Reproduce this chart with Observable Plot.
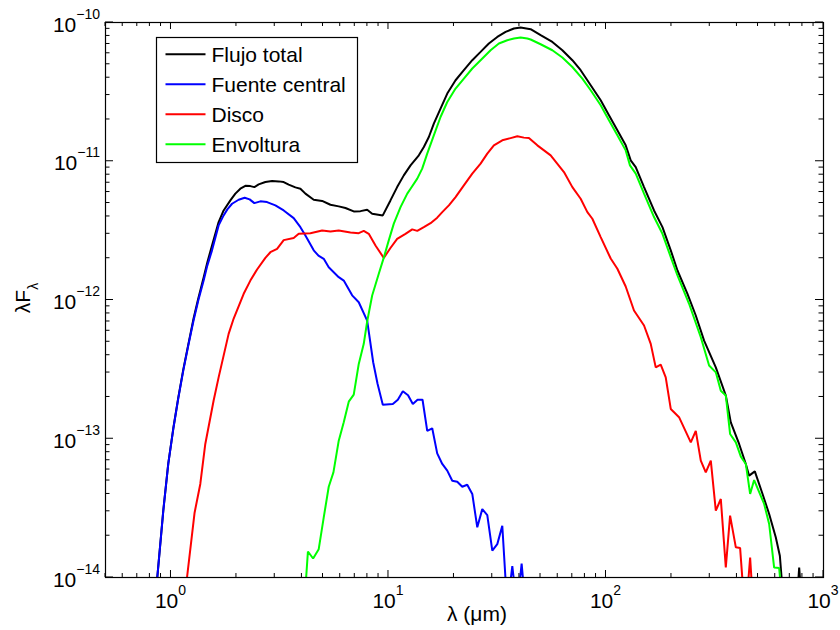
<!DOCTYPE html>
<html><head><meta charset="utf-8">
<script src="https://cdn.jsdelivr.net/npm/d3@7"></script>
<script src="https://cdn.jsdelivr.net/npm/@observablehq/plot@0.6"></script>
<style>body{margin:0;background:#fff;} svg{display:block}</style>
</head><body><div id="chart"></div>
<script>
const seriesNames = ["Flujo total", "Fuente central", "Disco", "Envoltura"];
const seriesColors = ["#000000", "#0000ff", "#ff0000", "#00ff00"];

const totalLambda = [0.820,0.865,0.922,0.972,1.025,1.080,1.139,1.201,1.270,1.335,1.413,1.469,1.544,1.656,1.746,1.875,1.977,2.084,2.198,2.317,2.417,2.530,2.716,2.917,3.128,3.298,3.477,3.733,3.936,4.150,4.532,4.953,5.409,5.906,6.341,6.923,7.432,7.980,8.414,9.415,10.21,10.96,11.76,12.63,13.79,14.54,15.33,16.16,17.35,18.63,20.34,22.21,24.28,26.51,28.94,31.64,34.55,37.73,40.50,45.03,50.06,56.67,63.01,70.05,76.48,85.04,94.54,103.2,112.8,123.2,129.9,137.0,149.6,166.3,181.8,198.5,213.1,236.9,258.7,282.5,319.8,355.5,374.8,409.3,439.4,455.0,483.4,524.5,562.5,603.7,630.0,664.4,700.4,738.5,773.0,812.5];
const totalFlux = [4.3e-15,1.0e-14,3.05e-14,6.65e-14,1.19e-13,1.97e-13,3.15e-13,4.77e-13,7.35e-13,1.025e-12,1.453e-12,1.865e-12,2.47e-12,3.64e-12,4.42e-12,5.22e-12,5.84e-12,6.34e-12,6.65e-12,6.62e-12,6.51e-12,6.81e-12,7.08e-12,7.20e-12,7.16e-12,7.08e-12,6.78e-12,6.48e-12,6.34e-12,5.84e-12,5.28e-12,5.18e-12,4.86e-12,4.73e-12,4.60e-12,4.35e-12,4.37e-12,4.47e-12,4.19e-12,4.07e-12,5.22e-12,6.51e-12,7.91e-12,9.34e-12,1.103e-11,1.266e-11,1.495e-11,1.867e-11,2.396e-11,3.074e-11,3.835e-11,4.53e-11,5.35e-11,6.14e-11,7.06e-11,7.87e-11,8.55e-11,9.05e-11,9.20e-11,8.95e-11,8.10e-11,7.24e-11,6.31e-11,5.35e-11,4.53e-11,3.53e-11,2.75e-11,2.144e-11,1.671e-11,1.302e-11,1.015e-11,9.08e-12,6.51e-12,4.42e-12,3.35e-12,2.28e-12,1.632e-12,1.108e-12,7.73e-13,5.10e-13,3.27e-13,2.05e-13,1.313e-13,9.17e-14,6.58e-14,5.42e-14,5.82e-14,4.00e-14,2.87e-14,1.943e-14,1.434e-14,5e-15,4e-15,4e-15,1.18e-14,4e-15];

const centralLambda = [0.820,0.865,0.922,0.972,1.025,1.080,1.139,1.201,1.270,1.335,1.413,1.469,1.544,1.656,1.746,1.816,1.909,2.047,2.182,2.300,2.417,2.576,2.765,3.020,3.298,3.666,3.936,4.150,4.532,4.764,5.039,5.312,5.906,6.228,6.807,7.300,7.980,8.505,8.901,9.415,10.47,11.04,11.64,12.30,12.94,13.60,14.34,15.07,15.89,16.75,17.67,18.63,19.64,20.71,21.84,23.02,24.28,25.60,26.99,28.46,30.01,31.64,33.36,35.17,37.09,39.02,40.94,43.15];
const centralFlux = [4.2e-15,1.0e-14,3.03e-14,6.61e-14,1.18e-13,1.95e-13,3.10e-13,4.70e-13,7.11e-13,9.91e-13,1.38e-12,1.77e-12,2.28e-12,3.45e-12,4.07e-12,4.50e-12,4.94e-12,5.28e-12,5.46e-12,5.31e-12,4.99e-12,5.14e-12,5.08e-12,4.81e-12,4.42e-12,3.89e-12,3.35e-12,2.92e-12,2.28e-12,2.09e-12,1.98e-12,1.72e-12,1.46e-12,1.38e-12,1.08e-12,9.64e-13,7.11e-13,3.56e-13,2.50e-13,1.76e-13,1.78e-13,1.91e-13,2.20e-13,2.06e-13,1.78e-13,1.91e-13,1.91e-13,1.14e-13,1.19e-13,7.85e-14,6.58e-14,5.89e-14,4.98e-14,4.90e-14,4.51e-14,4.66e-14,4.00e-14,2.30e-14,3.11e-14,2.82e-14,1.56e-14,1.74e-14,2.36e-14,6e-15,1.21e-14,6e-15,1.26e-14,5e-15];

const discLambda = [1.121,1.185,1.284,1.364,1.438,1.570,1.656,1.841,1.942,2.159,2.317,2.488,2.716,2.864,3.075,3.298,3.666,3.866,4.375,4.953,5.409,5.906,6.686,7.300,7.697,8.116,8.714,9.515,10.21,10.96,11.97,12.86,13.56,14.54,15.61,16.75,17.67,18.95,20.34,22.21,24.28,26.51,28.46,30.52,33.36,36.43,39.12,41.94,44.22,48.35,55.67,64.09,70.05,76.48,82.11,86.56,94.54,105.1,112.8,123.2,134.5,149.6,160.6,169.3,178.5,188.2,198.5,216.7,245.4,258.7,272.8,287.6,303.3,319.8,337.2,355.5,372.0,395.3,413.7,437.0,459.9,483.4];
const discFlux = [4.71e-15,1.0e-14,2.93e-14,4.72e-14,9.17e-14,1.88e-13,2.77e-13,5.70e-13,7.35e-13,1.108e-12,1.38e-12,1.66e-12,2.01e-12,2.21e-12,2.34e-12,2.70e-12,2.80e-12,3.00e-12,3.03e-12,3.17e-12,3.12e-12,3.17e-12,3.07e-12,3.03e-12,3.15e-12,3.00e-12,2.47e-12,2.01e-12,2.37e-12,2.76e-12,3.00e-12,3.23e-12,3.15e-12,3.35e-12,3.58e-12,3.92e-12,4.30e-12,4.81e-12,5.52e-12,6.70e-12,8.14e-12,9.61e-12,1.134e-11,1.302e-11,1.415e-11,1.468e-11,1.512e-11,1.480e-11,1.470e-11,1.302e-11,1.103e-11,8.36e-12,6.51e-12,5.37e-12,4.30e-12,3.85e-12,2.84e-12,1.99e-12,1.68e-12,1.251e-12,8.40e-13,6.55e-13,4.83e-13,3.27e-13,3.42e-13,2.77e-13,1.64e-13,1.43e-13,9.42e-14,1.14e-13,6.95e-14,5.72e-14,6.95e-14,3.03e-14,3.68e-14,1.18e-14,2.79e-14,1.65e-14,1.63e-14,5e-15,1.39e-14,4e-15];

const envelopeLambda = [4.020,4.262,4.503,4.778,5.039,5.312,5.583,5.906,6.228,6.567,6.923,7.300,7.697,7.980,8.414,9.024,9.515,10.03,10.58,11.36,12.20,12.63,13.56,14.29,15.07,16.16,17.35,18.63,20.34,22.21,24.28,26.51,29.47,32.18,35.17,37.73,40.50,43.48,45.03,50.06,56.67,63.01,70.05,77.87,85.04,94.54,103.2,112.8,123.2,128.9,137.0,149.6,166.3,181.8,198.5,213.1,241.0,272.8,297.9,319.8,337.2,355.5,372.0,395.3,416.9,439.4,459.9,479.8,533.4,562.5,593.0,625.4,657.5];
const envelopeFlux = [4e-15,1.54e-14,1.37e-14,1.60e-14,2.71e-14,4.51e-14,5.72e-14,9.69e-14,1.313e-13,1.85e-13,2.08e-13,3.46e-13,4.83e-13,7.00e-13,1.078e-12,1.545e-12,2.02e-12,2.69e-12,3.55e-12,4.67e-12,5.84e-12,6.34e-12,7.49e-12,8.84e-12,1.134e-11,1.538e-11,2.084e-11,2.674e-11,3.34e-11,3.94e-11,4.66e-11,5.35e-11,6.31e-11,7.06e-11,7.45e-11,7.67e-11,7.79e-11,7.67e-11,7.54e-11,6.97e-11,6.31e-11,5.59e-11,4.78e-11,3.94e-11,3.25e-11,2.53e-11,1.973e-11,1.538e-11,1.198e-11,9.34e-12,8.14e-12,5.84e-12,3.96e-12,3.00e-12,2.04e-12,1.502e-12,9.39e-13,5.39e-13,3.37e-13,3.01e-13,2.22e-13,2.05e-13,1.083e-13,9.42e-14,7.43e-14,6.58e-14,4.00e-14,5.04e-14,3.39e-14,2.43e-14,1.18e-14,1.17e-14,5e-15];

const xTickExponents = [0, 1, 2, 3];
const yTickExponents = [-14, -13, -12, -11, -10];
const xLabel = "λ (μm)";

const lambdas = [totalLambda, centralLambda, discLambda, envelopeLambda];
const fluxes = [totalFlux, centralFlux, discFlux, envelopeFlux];
const series = seriesNames.map((name, i) => ({
  name, color: seriesColors[i],
  rows: lambdas[i].map((l, j) => ({lambda: l, flux: fluxes[i][j]}))
}));

const W = 840, H = 630;
const M = {top: 22, right: 17, bottom: 53, left: 105};
const FONT = "'Liberation Sans', Arial, Helvetica, sans-serif";

const plot = Plot.plot({
  width: W, height: H,
  marginTop: M.top, marginRight: M.right, marginBottom: M.bottom, marginLeft: M.left,
  x: {type: "log", domain: [0.5, 1000], axis: null},
  y: {type: "log", domain: [1e-14, 1e-10], axis: null},
  style: {background: "#fff", fontFamily: FONT},
  marks: [
    ...series.map(s => Plot.line(s.rows, {x: "lambda", y: "flux", stroke: s.color, strokeWidth: 2, clip: true, strokeLinejoin: "miter"})),
    Plot.frame({stroke: "#000", strokeWidth: 1.2})
  ]
});

const sx = plot.scale("x"), sy = plot.scale("y");
const X = v => sx.apply(v), Y = v => sy.apply(v);
const x0 = M.left, x1 = W - M.right, y0 = M.top, y1 = H - M.bottom;
const svg = d3.select(plot);
const tg = svg.append("g").attr("stroke", "#000").attr("stroke-width", 1);

function xTick(v, len) {
  const p = X(v);
  tg.append("line").attr("x1", p).attr("x2", p).attr("y1", y1).attr("y2", y1 - len);
  tg.append("line").attr("x1", p).attr("x2", p).attr("y1", y0).attr("y2", y0 + len);
}
function yTick(v, len) {
  const p = Y(v);
  tg.append("line").attr("y1", p).attr("y2", p).attr("x1", x0).attr("x2", x0 + len);
  tg.append("line").attr("y1", p).attr("y2", p).attr("x1", x1).attr("x2", x1 - len);
}
const [xd0, xd1] = sx.domain, [yd0, yd1] = sy.domain;
for (let e = -1; e <= 3; e++) {
  for (let m = 1; m <= 9; m++) {
    const v = m * Math.pow(10, e);
    if (v < xd0 * 0.999 || v > xd1 * 1.001) continue;
    xTick(v, m === 1 ? 7 : 4);
  }
}
for (let e = -14; e <= -10; e++) {
  for (let m = 1; m <= 9; m++) {
    const v = m * Math.pow(10, e);
    if (v < yd0 * 0.999 || v > yd1 * 1.001) continue;
    yTick(v, m === 1 ? 8 : 4.5);
  }
}

// tick labels
xTickExponents.forEach(e => {
  const t = svg.append("text").attr("x", X(Math.pow(10, e))).attr("y", y1 + 31)
    .attr("text-anchor", "middle").attr("font-size", 21).attr("font-family", FONT).attr("fill", "#000");
  t.append("tspan").text("10");
  t.append("tspan").attr("dy", -13).attr("font-size", 14).text(String(e));
});
yTickExponents.forEach(e => {
  const t = svg.append("text").attr("x", x0 - 5).attr("y", Y(Math.pow(10, e)) + 9.5)
    .attr("text-anchor", "end").attr("font-size", 21).attr("font-family", FONT).attr("fill", "#000");
  t.append("tspan").text("10");
  t.append("tspan").attr("dy", -13).attr("font-size", 14).text("\u2212" + Math.abs(e));
});

// axis labels
svg.append("text").attr("x", 477).attr("y", 621).attr("text-anchor", "middle")
  .attr("font-size", 21).attr("font-family", FONT).attr("fill", "#000").text(xLabel);
const yl = svg.append("text").attr("transform", "translate(30,298) rotate(-90)")
  .attr("text-anchor", "middle").attr("font-size", 21).attr("font-family", FONT).attr("fill", "#000");
yl.append("tspan").text("λF");
yl.append("tspan").attr("dy", 8).attr("font-size", 14).text("λ");

// legend
const lg = svg.append("g");
lg.append("rect").attr("x", 156.5).attr("y", 37.5).attr("width", 201).attr("height", 125)
  .attr("fill", "#fff").attr("stroke", "#000").attr("stroke-width", 1.2);
series.forEach((s, i) => {
  const yy = 54.3 + 30 * i;
  lg.append("line").attr("x1", 165.5).attr("x2", 205.5).attr("y1", yy).attr("y2", yy)
    .attr("stroke", s.color).attr("stroke-width", 2);
  lg.append("text").attr("x", 211.5).attr("y", yy + 7.5).attr("font-size", 21)
    .attr("text-anchor", "start")
    .attr("font-family", FONT).attr("fill", "#000").text(s.name);
});

document.getElementById("chart").appendChild(plot);
</script>
</body></html>
